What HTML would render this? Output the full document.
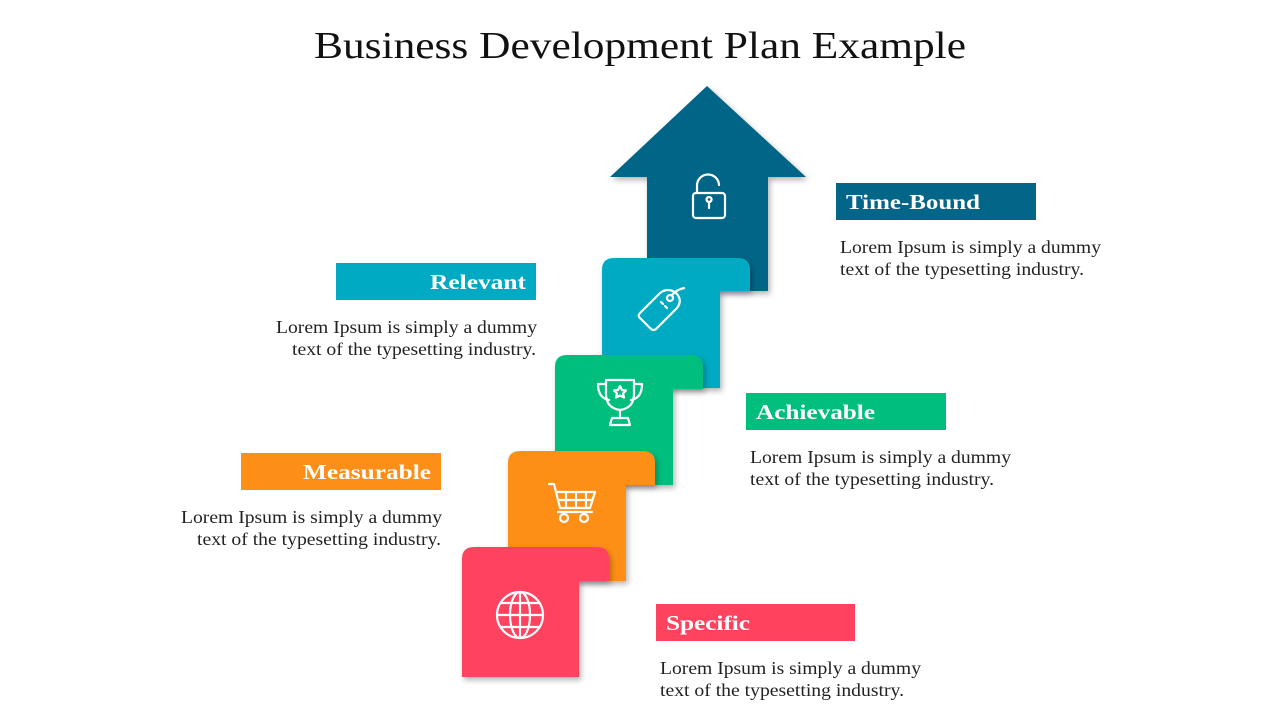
<!DOCTYPE html>
<html><head><meta charset="utf-8"><style>
html,body{margin:0;padding:0;background:#fff;}
svg{display:block;font-family:"Liberation Serif",serif;}
.l{font-size:21px;font-weight:bold;fill:#fff;}
.b{font-size:18px;fill:#222;}
</style></head><body>
<svg width="1280" height="720" viewBox="0 0 1280 720">
<defs>
<filter id="sh" x="-20%" y="-20%" width="140%" height="140%"><feDropShadow dx="2" dy="3" stdDeviation="3" flood-color="#000" flood-opacity="0.3"/></filter>
</defs>
<text x="640" y="58" text-anchor="middle" font-size="38" fill="#111" textLength="652" lengthAdjust="spacingAndGlyphs">Business Development Plan Example</text>

<!-- arrow -->
<path d="M707 86 L806 177 L768 177 L768 291 L647 291 L647 177 L610 177 Z" fill="#036587" filter="url(#sh)"/>
<!-- cyan -->
<path d="M602 291 L602 270 Q602 258 614 258 L738 258 Q750 258 750 270 L750 291 L720 291 L720 388 L602 388 Z" fill="#00AAC2" filter="url(#sh)"/>
<!-- green -->
<path d="M555 389 L555 367 Q555 355 567 355 L691 355 Q703 355 703 367 L703 389 L673 389 L673 485 L555 485 Z" fill="#00BE7E" filter="url(#sh)"/>
<!-- orange -->
<path d="M508 485 L508 463 Q508 451 520 451 L643 451 Q655 451 655 463 L655 485 L626 485 L626 581 L508 581 Z" fill="#FD8F18" filter="url(#sh)"/>
<!-- red -->
<path d="M462 581 L462 559 Q462 547 474 547 L597 547 Q609 547 609 559 L609 581 L579 581 L579 677 L462 677 Z" fill="#FF435F" filter="url(#sh)"/>

<!-- icons -->
<g fill="none" stroke="#fff" stroke-width="2.2" stroke-linecap="round" stroke-linejoin="round">
  <rect x="693" y="193" width="32" height="25" rx="3"/>
  <path d="M697 193 V186 a11 11 0 0 1 22 -1"/>
  <path d="M709 202 a2.5 2.5 0 1 1 0.1 0 M709 204 v4"/>
  <!-- tag -->
  <path d="M640 313 L660 293 Q668 287 676 293 Q683 300 677 308 L657 328 Q654 332 650 328 L641 319 Q637 316 640 313 Z"/>
  <circle cx="670" cy="298" r="3"/><path d="M672 295 Q676 290 684 288"/><path d="M661 302 l2 2 M665 306 l2 2"/>
  <!-- trophy -->
  <path d="M606 380 H634 V394 Q634 408 620 410 Q606 408 606 394 Z"/>
  <path d="M606 384 H598 Q598 398 609 400 M634 384 H642 Q642 398 631 400"/>
  <path d="M620 410 V416 M612 418 H628 L630 425 H610 Z"/>
  <path d="M620 386 l2 4 4 .5 -3 3 1 4 -4 -2 -4 2 1 -4 -3 -3 4 -.5 Z"/>
  <!-- cart -->
  <path d="M549 484 H554 L560 508 H590 L595 492 H556"/>
  <path d="M566 492 V508 M576 492 V508 M586 492 V508 M558 500 H592"/>
  <path d="M558 512 H592"/><circle cx="564" cy="518" r="4"/><circle cx="584" cy="518" r="4"/>
  <!-- globe -->
  <circle cx="520" cy="615" r="23"/><ellipse cx="520" cy="615" rx="10" ry="23"/>
  <path d="M497 615 H543 M501 603 H539 M501 627 H539 M520 592 V638"/>
</g>

<!-- labels -->
<rect x="836" y="183" width="200" height="37" fill="#036587"/>
<text class="l" x="846" y="209" textLength="134" lengthAdjust="spacingAndGlyphs">Time-Bound</text>
<text class="b" x="840" y="253" textLength="261" lengthAdjust="spacingAndGlyphs">Lorem Ipsum is simply a dummy</text>
<text class="b" x="840" y="275" textLength="244" lengthAdjust="spacingAndGlyphs">text of the typesetting industry.</text>

<rect x="336" y="263" width="200" height="37" fill="#00AAC2"/>
<text class="l" x="526" y="289" text-anchor="end" textLength="96" lengthAdjust="spacingAndGlyphs">Relevant</text>
<text class="b" x="537" y="333" text-anchor="end" textLength="261" lengthAdjust="spacingAndGlyphs">Lorem Ipsum is simply a dummy</text>
<text class="b" x="536" y="355" text-anchor="end" textLength="244" lengthAdjust="spacingAndGlyphs">text of the typesetting industry.</text>

<rect x="746" y="393" width="200" height="37" fill="#00BE7E"/>
<text class="l" x="756" y="419" textLength="119" lengthAdjust="spacingAndGlyphs">Achievable</text>
<text class="b" x="750" y="463" textLength="261" lengthAdjust="spacingAndGlyphs">Lorem Ipsum is simply a dummy</text>
<text class="b" x="750" y="485" textLength="244" lengthAdjust="spacingAndGlyphs">text of the typesetting industry.</text>

<rect x="241" y="453" width="200" height="37" fill="#FD8F18"/>
<text class="l" x="431" y="479" text-anchor="end" textLength="128" lengthAdjust="spacingAndGlyphs">Measurable</text>
<text class="b" x="442" y="523" text-anchor="end" textLength="261" lengthAdjust="spacingAndGlyphs">Lorem Ipsum is simply a dummy</text>
<text class="b" x="441" y="545" text-anchor="end" textLength="244" lengthAdjust="spacingAndGlyphs">text of the typesetting industry.</text>

<rect x="656" y="604" width="199" height="37" fill="#FF435F"/>
<text class="l" x="666" y="630" textLength="84" lengthAdjust="spacingAndGlyphs">Specific</text>
<text class="b" x="660" y="674" textLength="261" lengthAdjust="spacingAndGlyphs">Lorem Ipsum is simply a dummy</text>
<text class="b" x="660" y="696" textLength="244" lengthAdjust="spacingAndGlyphs">text of the typesetting industry.</text>
</svg>
</body></html>
